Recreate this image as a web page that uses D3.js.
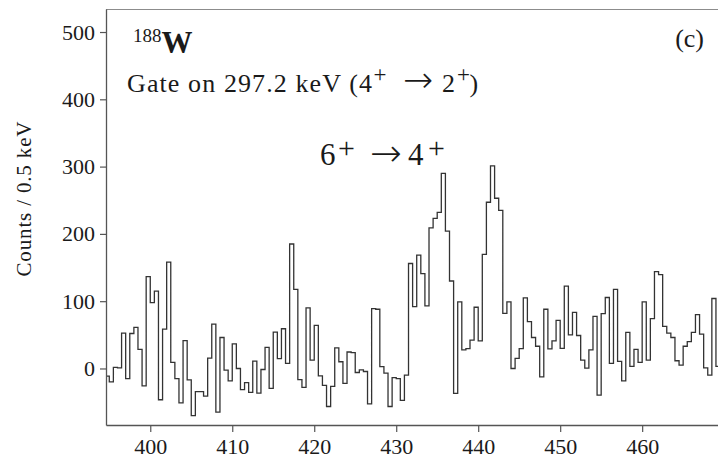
<!DOCTYPE html>
<html>
<head>
<meta charset="utf-8">
<script src="https://cdn.jsdelivr.net/npm/d3@7"></script>
<style>
  html, body { margin: 0; padding: 0; background: #fff; }
  svg { display: block; }
  text { font-family: "Liberation Serif", "DejaVu Serif", serif; fill: #1a1a1a; }
  .arrow { font-family: "DejaVu Sans", sans-serif; font-weight: 200; }
</style>
</head>
<body>
<svg id="chart" width="718" height="458"></svg>
<script>
// ---- data (counts per 0.5 keV bin, first bin starts at 394.5 keV) ----
const binStart = 394.5;
const binWidth = 0.5;
const counts = [
  -11.5, -20, 1.5, 1, 52.5, -15, 52, 61, 28.5, -26,
  136.5, 98, 115, -46.5, 58.5, 158, 9, -15, -51, 41.5,
  -17, -70, -34.5, -34.5, -41, 15.5, 66, -65, 46, -2.5,
  -18.5, 36.5, 0, -31.5, -21, -35.5, 11, -36.5, -1.5, 31.5,
  -29.5, 54, 14.5, 59, 7.5, 185, 117.5, -16.5, -28, 90,
  12.5, 64, -11, -25, -56.5, -26.5, 30.5, 10, -22, 24.5,
  23.5, -6, -2, -4.5, -52.5, 89, 88, 2.7, -7, -56.5,
  -13.5, -15, -47.5, -10, 156, 92, 168.5, 141, 93, 209,
  223, 232, 290, 204, 130, -37, 99, 27.5, 29.5, 42,
  91, 41, 169.5, 247, 301, 253, 235, 82, 99, 0,
  15, 29.5, 105, 69.5, 46, 33, -12.5, 88, 29, 41,
  71.5, 30, 122.5, 50, 83.5, 49, 12.5, 0.5, 27.5, 77.5,
  -39.5, 81.5, 105.5, 7.5, 117.5, 10.5, -18.5, 53.5, 3, 28.5,
  9, 99, 12.5, 74, 144, 139.5, 62.5, 52.5, 46, 11.5,
  5, 33, 40, 53.5, 80, 51, 1, -10, 104, 3
];
const xTicks = [400, 410, 420, 430, 440, 450, 460];
const yTicks = [0, 100, 200, 300, 400, 500];
const xDomain = [394.6, 469.25];
const yDomain = [-84, 534.2];
const yLabel = "Counts / 0.5 keV";
const isotopeMass = "188";
const isotopeSymbol = "W";
const panelLabel = "(c)";
const gateText = "Gate on 297.2 keV (4";
const gateTo = "2";
const transFrom = "6";
const transTo = "4";

// ---- layout ----
const svg = d3.select("#chart");
const pLeft = 106, pRight = 718, pTop = 9, pBottom = 425;

const x = d3.scaleLinear().domain(xDomain).range([pLeft, pRight]);
const y = d3.scaleLinear().domain(yDomain).range([pBottom, pTop]);

svg.append("defs").append("clipPath").attr("id", "plotclip")
  .append("rect").attr("x", pLeft).attr("y", pTop)
  .attr("width", pRight - pLeft).attr("height", pBottom - pTop);

// top frame
svg.append("line")
  .attr("x1", pLeft).attr("x2", pRight).attr("y1", pTop + 0.5).attr("y2", pTop + 0.5)
  .attr("stroke", "#8c8c8c").attr("stroke-width", 1.2);

// histogram
const pts = counts.map((c, i) => [binStart + i * binWidth, c]);
pts.push([binStart + counts.length * binWidth, counts[counts.length - 1]]);
const line = d3.line()
  .x(d => x(d[0])).y(d => y(d[1]))
  .curve(d3.curveStepAfter);
svg.append("path")
  .attr("clip-path", "url(#plotclip)")
  .attr("d", line(pts))
  .attr("fill", "none")
  .attr("stroke", "#333")
  .attr("stroke-width", 1.3);

// axes
const gx = svg.append("g").attr("transform", `translate(0,${pBottom})`)
  .call(d3.axisBottom(x).tickValues(xTicks).tickFormat(d3.format("d"))
    .tickSize(7).tickSizeOuter(0).tickPadding(6.5));
const gy = svg.append("g").attr("transform", `translate(${pLeft},0)`)
  .call(d3.axisLeft(y).tickValues(yTicks).tickFormat(d3.format("d"))
    .tickSize(6).tickSizeOuter(0).tickPadding(5));
[gx, gy].forEach(g => {
  g.select(".domain").attr("stroke", "#555").attr("stroke-width", 1.3);
  g.selectAll(".tick line").attr("stroke", "#555").attr("stroke-width", 1.2);
  g.selectAll(".tick text").attr("font-size", 22)
    .attr("font-family", "Liberation Serif, DejaVu Serif, serif").attr("fill", "#1a1a1a");
});

// y label
svg.append("text")
  .attr("transform", "translate(31,199) rotate(-90)")
  .attr("text-anchor", "middle")
  .attr("font-size", 21)
  .attr("textLength", 155).attr("lengthAdjust", "spacing")
  .text(yLabel);

// isotope label
const iso = svg.append("text").attr("x", 133).attr("y", 53);
iso.append("tspan").attr("font-size", 19).attr("dy", -11).text(isotopeMass);
iso.append("tspan").attr("font-size", 31).attr("font-weight", "bold").attr("dy", 11).text(isotopeSymbol);

// gate label
const gate = svg.append("g");
gate.append("text").attr("x", 127).attr("y", 92).attr("font-size", 26)
  .attr("textLength", 245).attr("lengthAdjust", "spacing").text(gateText);
gate.append("text").attr("x", 380).attr("y", 82).attr("font-size", 23)
  .attr("text-anchor", "middle").text("+");
gate.append("text").attr("class", "arrow").attr("x", 418).attr("y", 92).attr("font-size", 36)
  .attr("text-anchor", "middle").text("\u2192");
gate.append("text").attr("x", 442).attr("y", 92).attr("font-size", 26).text(gateTo);
gate.append("text").attr("x", 463.5).attr("y", 82).attr("font-size", 23)
  .attr("text-anchor", "middle").text("+");
gate.append("text").attr("x", 469.5).attr("y", 92).attr("font-size", 26).text(")");

// transition label
const tr = svg.append("g");
tr.append("text").attr("x", 320).attr("y", 165).attr("font-size", 31).text(transFrom);
tr.append("text").attr("x", 346.5).attr("y", 158).attr("font-size", 30)
  .attr("text-anchor", "middle").text("+");
tr.append("text").attr("class", "arrow").attr("x", 386).attr("y", 166).attr("font-size", 38)
  .attr("text-anchor", "middle").text("\u2192");
tr.append("text").attr("x", 408).attr("y", 165).attr("font-size", 31).text(transTo);
tr.append("text").attr("x", 436.5).attr("y", 158).attr("font-size", 30)
  .attr("text-anchor", "middle").text("+");

// panel label
svg.append("text").attr("x", 704).attr("y", 47).attr("text-anchor", "end")
  .attr("font-size", 26).text(panelLabel);
</script>
</body>
</html>
